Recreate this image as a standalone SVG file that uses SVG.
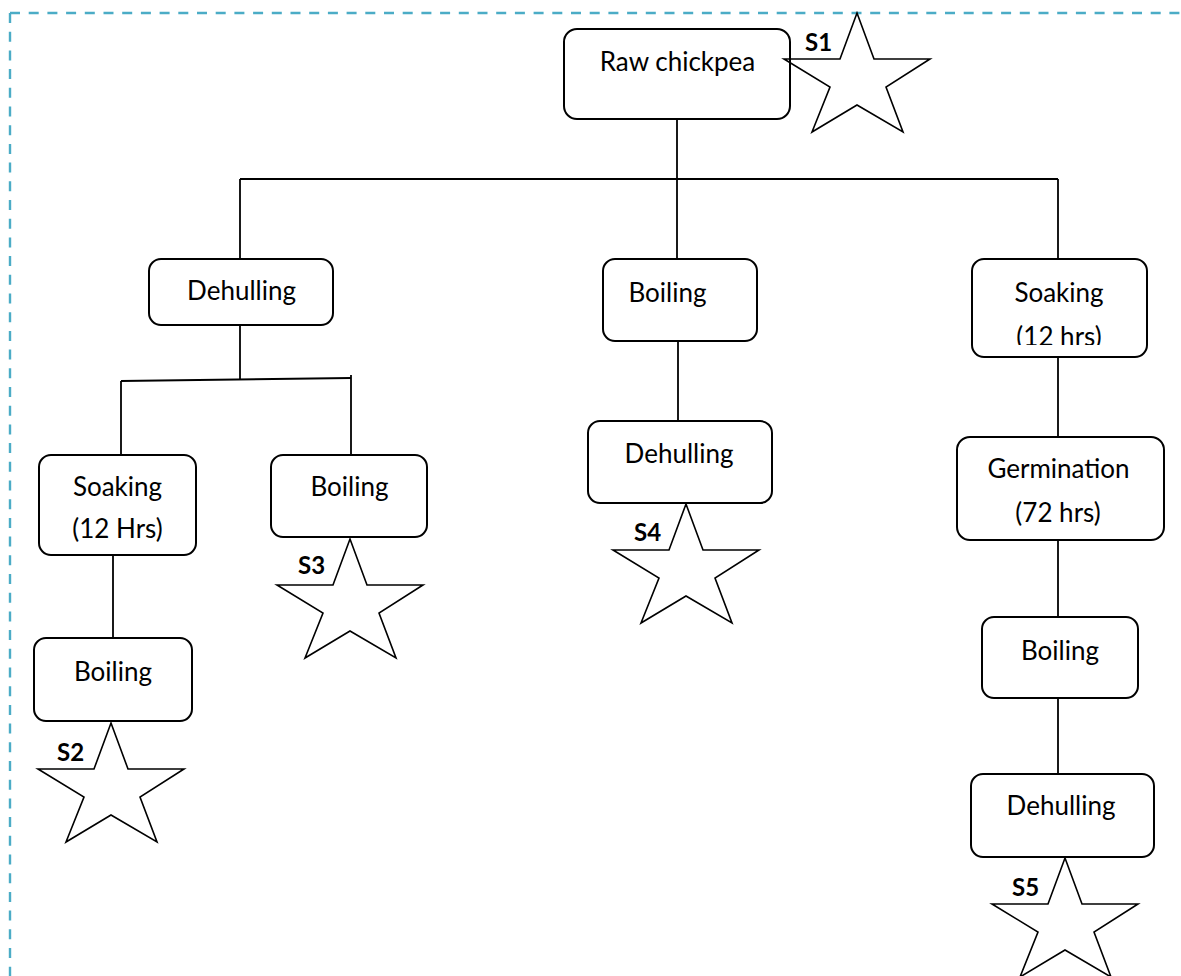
<svg xmlns="http://www.w3.org/2000/svg" width="1181" height="976" viewBox="0 0 1181 976">
<style>
.box{fill:#fff;stroke:#000;stroke-width:2}
.lbl{font-family:Lato,"Liberation Sans",sans-serif;font-size:26px;fill:#000;text-anchor:middle}
.s{font-family:Lato,"Liberation Sans",sans-serif;font-size:24px;font-weight:bold;fill:#000}
.star{fill:none;stroke:#000;stroke-width:1.6;stroke-linejoin:miter}
.ln{fill:none;stroke:#000;stroke-width:1.8}
.border{fill:none;stroke:#4BACC6;stroke-width:2.4;stroke-dasharray:10 8.7}
</style>
<defs>
<path id="star" d="M0,0 L17,46 L73,46 L29,74 L46,119 L0,92 L-45,119 L-27,74 L-73,46 L-17,46 Z"/>
<clipPath id="clipSoakR"><rect x="972" y="259" width="175" height="86"/></clipPath>
</defs>
<rect width="1181" height="976" fill="#fff"/>
<g id="border">
<path class="border" d="M10,13 V976"/>
<path class="border" d="M10,13 H1181"/>
</g>
<g id="connectors">
<path class="ln" d="M677,119 V259"/>
<path class="ln" d="M240,179 H1058"/>
<path class="ln" d="M240,179 V259"/>
<path class="ln" d="M1058,179 V259"/>
<path class="ln" d="M240,325 V380"/>
<path class="ln" d="M121,381 L351,378"/>
<path class="ln" d="M121,381 V455"/>
<path class="ln" d="M351,375 V455"/>
<path class="ln" d="M113,555 V638"/>
<path class="ln" d="M678,341 V421"/>
<path class="ln" d="M1058,357 V437"/>
<path class="ln" d="M1058,540 V617"/>
<path class="ln" d="M1058,698 V774"/>
</g>
<g id="raw"><rect class="box" x="564" y="29" width="226" height="90" rx="13"/><text class="lbl" x="677.5" y="71">Raw chickpea</text></g>
<g id="dehullL"><rect class="box" x="149" y="259" width="184" height="66" rx="12"/><text class="lbl" x="241.5" y="300">Dehulling</text></g>
<g id="boilMid"><rect class="box" x="603" y="259" width="154" height="82" rx="12"/><text class="lbl" x="667.5" y="302">Boiling</text></g>
<g id="soakR"><rect class="box" x="972" y="259" width="175" height="98" rx="12"/><text class="lbl" x="1059" y="302">Soaking</text><text class="lbl" x="1059" y="346" clip-path="url(#clipSoakR)">(12 hrs)</text></g>
<g id="soakL"><rect class="box" x="39" y="455" width="157" height="100" rx="12"/><text class="lbl" x="117.5" y="496">Soaking</text><text class="lbl" x="117.5" y="538">(12 Hrs)</text></g>
<g id="boilS3"><rect class="box" x="271" y="455" width="156" height="82" rx="12"/><text class="lbl" x="349.5" y="496">Boiling</text></g>
<g id="dehullMid"><rect class="box" x="588" y="421" width="184" height="82" rx="12"/><text class="lbl" x="679" y="463">Dehulling</text></g>
<g id="germ"><rect class="box" x="957" y="437" width="207" height="103" rx="13"/><text class="lbl" x="1058.5" y="478">Germination</text><text class="lbl" x="1058" y="522">(72 hrs)</text></g>
<g id="boilL"><rect class="box" x="34" y="638" width="158" height="83" rx="12"/><text class="lbl" x="113" y="681">Boiling</text></g>
<g id="boilR"><rect class="box" x="982" y="617" width="156" height="81" rx="12"/><text class="lbl" x="1060" y="660">Boiling</text></g>
<g id="dehullR"><rect class="box" x="971" y="774" width="183" height="83" rx="12"/><text class="lbl" x="1061" y="815">Dehulling</text></g>
<g id="S1"><use href="#star" class="star" transform="translate(857,13)"/><text class="s" x="805" y="51">S1</text></g>
<g id="S2"><use href="#star" class="star" transform="translate(111,723)"/><text class="s" x="57" y="761">S2</text></g>
<g id="S3"><use href="#star" class="star" transform="translate(350,539)"/><text class="s" x="298" y="574">S3</text></g>
<g id="S4"><use href="#star" class="star" transform="translate(686,504)"/><text class="s" x="634" y="541">S4</text></g>
<g id="S5"><use href="#star" class="star" transform="translate(1065,858)"/><text class="s" x="1012" y="896">S5</text></g>
</svg>
